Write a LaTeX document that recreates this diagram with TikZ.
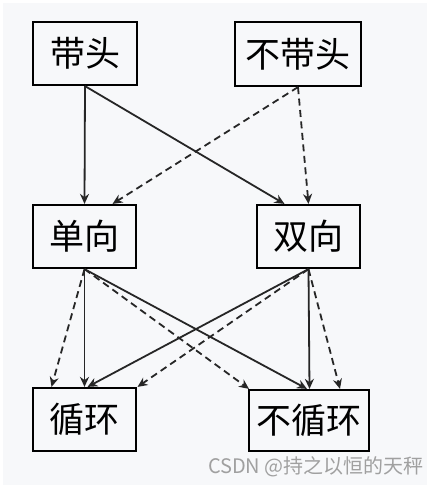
\documentclass[tikz,border=0pt]{standalone}
\usepackage{fontspec}
\newfontfamily\cjk{Noto Sans CJK SC}
\usetikzlibrary{arrows.meta,calc}
\definecolor{bg}{HTML}{F7F8FA}
\definecolor{wm}{HTML}{A0A0A0}
\tikzset{
  box/.style={draw=black,line width=2.2pt,rectangle,inner sep=0pt,font=\cjk\fontsize{35}{35}\selectfont},
  link/.style={line width=1.8pt,draw=black!85,-{Stealth[length=10pt,width=9pt]}},
  dlink/.style={link,dash pattern=on 7pt off 4.5pt}
}
\begin{document}
\begin{tikzpicture}[x=1pt,y=-1pt]
\useasboundingbox (0,0) rectangle (438,485);
\fill[white] (0,0) rectangle (438,485);
\fill[bg] (3,3) rectangle (427,485);
\node[box,minimum width=104pt,minimum height=63pt] (dt) at (85,53.5) {带头};
\node[box,minimum width=126pt,minimum height=64pt] (bdt) at (298,54) {不带头};
\node[box,minimum width=103pt,minimum height=63pt] (dx) at (84.5,236.5) {单向};
\node[box,minimum width=103pt,minimum height=63pt] (sx) at (308.5,236.5) {双向};
\node[box,minimum width=103pt,minimum height=63pt] (xh) at (84.5,419.5) {循环};
\node[box,minimum width=120pt,minimum height=61pt] (bxh) at (309,420.5) {不循环};
% top level
\draw[link] (dt.south) -- (dx.north);
\draw[link] (dt.south) -- ($(sx.north)+(-24,0)$);
\draw[dlink] (bdt.south) -- ($(dx.north)+(28,0)$);
\draw[dlink] (bdt.south) -- (sx.north);
% from 单向
\draw[link] (dx.south) -- (xh.north);
\draw[dlink] (dx.south) -- ($(xh.north)+(-33,0)$);
\draw[link] (dx.south) -- ($(bxh.north)+(-2,0)$);
\draw[dlink] (dx.south) -- ($(bxh.north)+(-60,0)$);
% from 双向
\draw[link] (sx.south) -- ($(bxh.north)+(0.5,0)$);
\draw[dlink] (sx.south) -- ($(bxh.north)+(31,0)$);
\draw[link] (sx.south) -- ($(xh.north)+(3,0)$);
\draw[dlink] (sx.south) -- ($(xh.north)+(53,0)$);
\node[font=\cjk\fontsize{20}{20}\selectfont,text=wm,anchor=east,inner sep=0pt] (wmk) at (424,467) {CSDN @持之以恒的天秤};
\end{tikzpicture}
\end{document}
